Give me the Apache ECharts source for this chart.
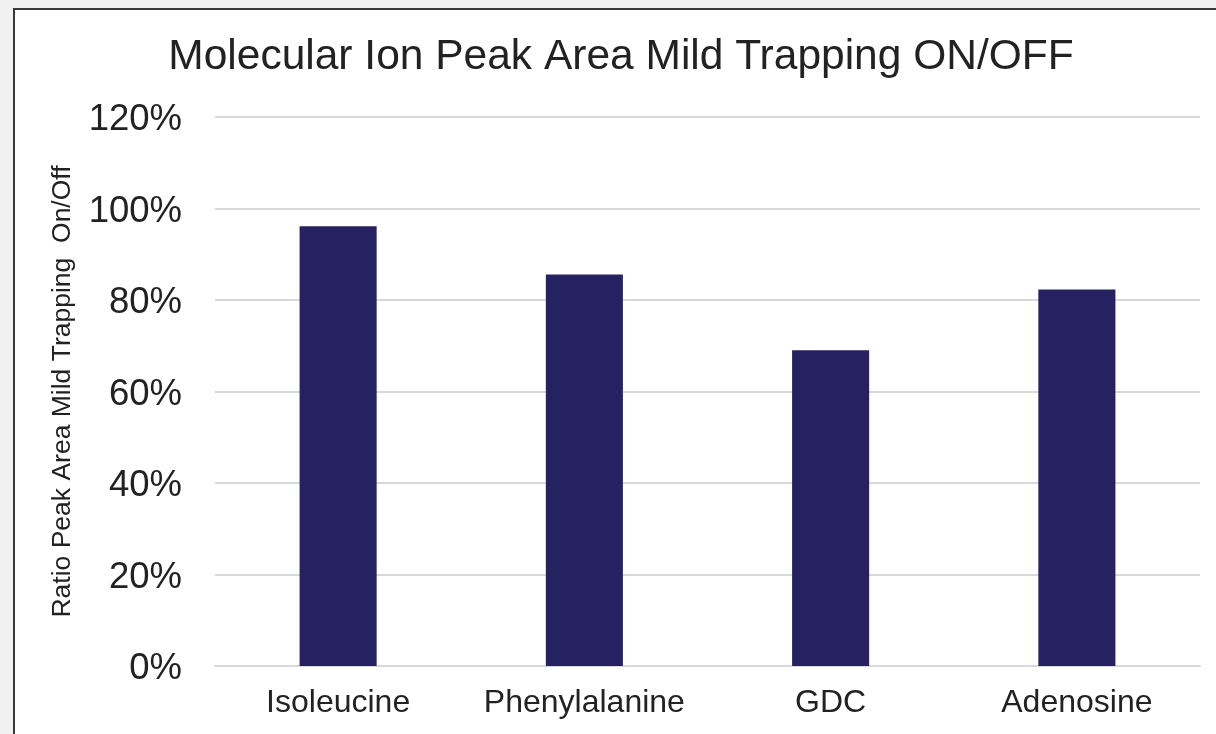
<!DOCTYPE html>
<html>
<head>
<meta charset="utf-8">
<style>
  html, body { margin: 0; padding: 0; width: 1216px; height: 734px; overflow: hidden; background: #f1f1f1; font-family: "Liberation Sans", Arial, sans-serif; }
  #frame { position: absolute; left: 13px; top: 8px; width: 1300px; height: 800px; border: 2px solid #3a3a3a; background: #ffffff; }
  #chart { position: absolute; left: 0; top: 0; width: 1216px; height: 734px; }
</style>
<script src="https://cdn.jsdelivr.net/npm/echarts@6/dist/echarts.min.js"></script>
</head>
<body>
<div id="frame"></div>
<div id="chart"></div>
<script>
// Peak area ratio (mild trapping on / off), in percent
const categories = ['Isoleucine', 'Phenylalanine', 'GDC', 'Adenosine'];
const ratioValues = [96.1, 85.6, 69.0, 82.3];
const yTicks = [0, 20, 40, 60, 80, 100, 120];

const chart = echarts.init(document.getElementById('chart'), null, { renderer: 'canvas' });

const textColor = '#222222';
const font = '"Liberation Sans", Arial, sans-serif';

chart.setOption({
  backgroundColor: 'transparent',
  animation: false,
  title: {
    text: 'Molecular Ion Peak Area Mild Trapping ON/OFF',
    left: 616,
    top: 31,
    textAlign: 'center',
    textStyle: { fontFamily: font, fontSize: 42.5, fontWeight: 'normal', color: textColor }
  },
  grid: { left: 215, right: 16, top: 117, bottom: 68, containLabel: false },
  xAxis: {
    type: 'category',
    data: categories,
    axisLine: { show: true, lineStyle: { color: '#d9d9d9', width: 2 } },
    axisTick: { show: false },
    axisLabel: { interval: 0, fontFamily: font, fontSize: 32, color: textColor, margin: 21 }
  },
  yAxis: {
    type: 'value',
    min: yTicks[0],
    max: yTicks[yTicks.length - 1],
    interval: yTicks[1] - yTicks[0],
    name: 'Ratio Peak Area Mild Trapping  On/Off',
    nameLocation: 'middle',
    nameGap: 139,
    nameTextStyle: { fontFamily: font, fontSize: 26.5, color: textColor },
    axisLine: { show: false },
    axisTick: { show: false },
    axisLabel: {
      margin: 33,
      formatter: v => '{p|' + v + '%}',
      rich: {
        p: { fontFamily: font, fontSize: 36.5, color: textColor, padding: [6, 0, 0, 0] }
      }
    },
    splitLine: { show: true, lineStyle: { color: '#d9d9d9', width: 2 } }
  },
  series: [{
    type: 'bar',
    data: ratioValues,
    barWidth: '31.3%',
    itemStyle: { color: '#262262' }
  }]
});
</script>
</body>
</html>
